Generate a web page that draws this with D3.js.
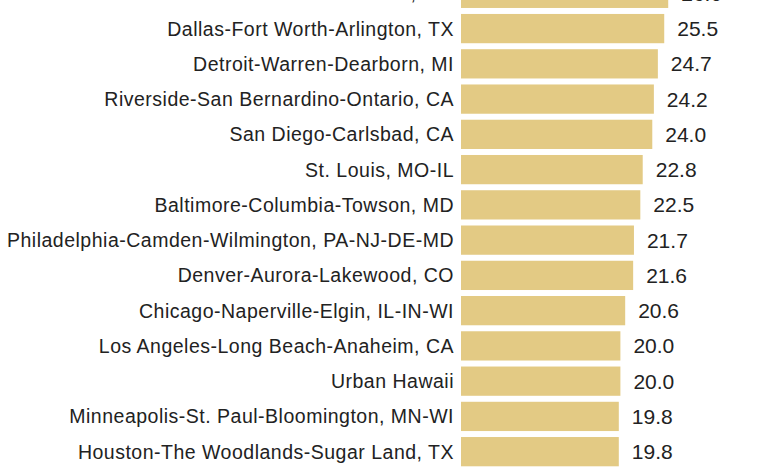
<!DOCTYPE html>
<html>
<head>
<meta charset="utf-8">
<script src="https://cdn.jsdelivr.net/npm/d3@7"></script>
<style>
  html, body { margin: 0; padding: 0; background: #ffffff; }
  svg { display: block; }
  text { font-family: "Liberation Sans", Arial, sans-serif; fill: #222222; }
</style>
</head>
<body>
<svg id="chart" width="780" height="470"></svg>
<script>
const categories = [
  "Seattle-Tacoma-Bellevue, WA",
  "Dallas-Fort Worth-Arlington, TX",
  "Detroit-Warren-Dearborn, MI",
  "Riverside-San Bernardino-Ontario, CA",
  "San Diego-Carlsbad, CA",
  "St. Louis, MO-IL",
  "Baltimore-Columbia-Towson, MD",
  "Philadelphia-Camden-Wilmington, PA-NJ-DE-MD",
  "Denver-Aurora-Lakewood, CO",
  "Chicago-Naperville-Elgin, IL-IN-WI",
  "Los Angeles-Long Beach-Anaheim, CA",
  "Urban Hawaii",
  "Minneapolis-St. Paul-Bloomington, MN-WI",
  "Houston-The Woodlands-Sugar Land, TX"
];
const values = [26.0, 25.5, 24.7, 24.2, 24.0, 22.8, 22.5, 21.7, 21.6, 20.6, 20.0, 20.0, 19.8, 19.8];

const svg = d3.select("#chart");
const x0 = 461;
const x = d3.scaleLinear().domain([0, 10]).range([x0, x0 + 79.7]);
const y = d3.scaleBand().domain(categories).range([-21.3, 466.3]).paddingInner(0.17).paddingOuter(0);

const data = categories.map((c, i) => ({ c, v: values[i] }));

svg.selectAll("rect.bar").data(data).join("rect")
  .attr("class", "bar")
  .attr("x", x(0))
  .attr("y", d => y(d.c))
  .attr("width", d => x(d.v) - x(0))
  .attr("height", y.bandwidth())
  .attr("fill", "#e3ca84");

svg.selectAll("text.label").data(data).join("text")
  .attr("class", "label")
  .attr("x", x(0) - 7)
  .attr("y", d => y(d.c) + y.bandwidth() / 2)
  .attr("dy", "0.36em")
  .attr("text-anchor", "end")
  .style("font-size", "19.5px")
  .style("letter-spacing", "0.5px")
  .text(d => d.c);

svg.selectAll("text.value").data(data).join("text")
  .attr("class", "value")
  .attr("x", d => x(d.v) + 13)
  .attr("y", d => y(d.c) + y.bandwidth() / 2)
  .attr("dy", "0.36em")
  .style("font-size", "21px")
  .text(d => d3.format(".1f")(d.v));
</script>
</body>
</html>
